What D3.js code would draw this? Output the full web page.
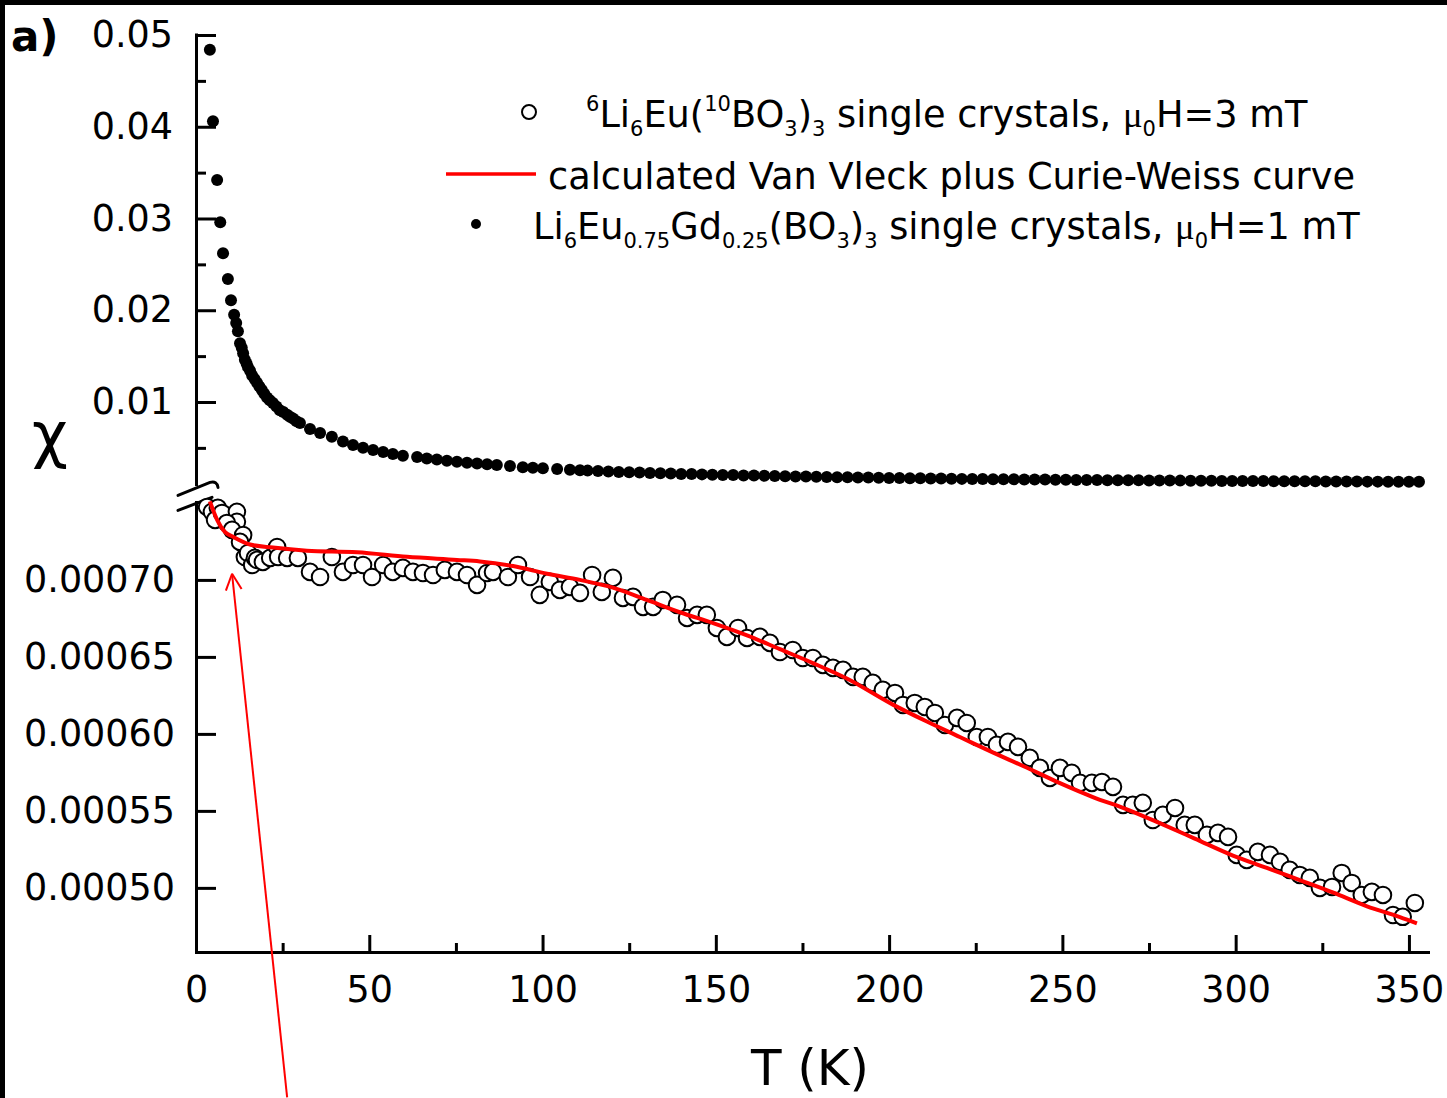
<!DOCTYPE html>
<html><head><meta charset="utf-8">
<script src="https://cdn.jsdelivr.net/npm/d3@7"></script>
<style>
html,body{margin:0;padding:0;background:#fff;}
svg{display:block;}
text{font-family:"DejaVu Sans",Verdana,sans-serif;fill:#000;}
</style></head><body>
<svg id="c" width="1447" height="1098"></svg>
<script>
// ---------------- DATA ----------------
// Li6Eu0.75Gd0.25(BO3)3, mu0H = 1 mT (filled dots, upper panel)
const T_up = [4.0,4.9,6.1,7.0,7.8,9.2,10.1,11.0,11.6,12.1,12.7,13.2,13.6,14.1,14.6,15.0,15.6,16.2,16.9,17.6,18.3,19.0,19.7,20.5,21.3,22.2,23.2,24.2,25.2,26.3,27.1,28.0,29.0,30.0,32.9,35.8,39.2,42.4,45.3,48.2,51.1,54.0,56.8,59.7,63.8,66.6,69.5,72.4,75.3,78.2,81.1,84.0,86.8,90.6,94.3,97.2,100.1,104.2,107.9,110.8,113.0,
116,119,122,125,128,131,134,137,140,143,146,149,152,155,158,161,164,167,170,173,176,179,182,185,188,191,194,197,200,203,206,209,212,215,218,221,224,227,230,233,236,239,242,245,248,251,254,257,260,263,266,269,272,275,278,281,284,287,290,293,296,299,302,305,308,311,314,317,320,323,326,329,332,335,338,341,344,347,350,352.9];
const chi_up = [0.0484,0.0406,0.0342,0.0296,0.0262,0.0234,0.0211,0.0195,0.0186,0.0177,0.0164,0.0159,0.0153,0.0146,0.0142,0.0138,0.0134,0.0129,0.0125,0.0121,0.0117,0.0113,0.0109,0.0105,0.0102,0.0099,0.0095,0.0091,0.0089,0.0086,0.0084,0.0082,0.0079,0.0077,0.00706,0.00662,0.0062,0.0057,0.0053,0.0050,0.00477,0.00455,0.00433,0.00415,0.0040,0.00385,0.00372,0.0036,0.00348,0.00337,0.0033,0.00322,0.00313,0.00302,0.0029,0.00283,0.00277,0.0027,0.00262,0.00257,0.00252,
0.00248,0.00243,0.00238,0.00235,0.00231,0.00227,0.00224,0.0022,0.00216,0.00214,0.00211,0.00208,0.00205,0.00203,0.002,0.00198,0.00195,0.00193,0.00191,0.00189,0.00187,0.00185,0.00183,0.00181,0.00179,0.00177,0.00176,0.00174,0.00172,0.00171,0.00169,0.00168,0.00166,0.00165,0.00164,0.00162,0.00161,0.0016,0.00159,0.00158,0.00157,0.00156,0.00155,0.00154,0.00153,0.00152,0.00151,0.0015,0.00149,0.00148,0.00147,0.00147,0.00146,0.00145,0.00144,0.00144,0.00143,0.00142,0.00142,0.00141,0.0014,0.0014,0.00139,0.00138,0.00138,0.00137,0.00137,0.00136,0.00135,0.00135,0.00134,0.00134,0.00133,0.00133,0.00132,0.00132,0.00131,0.00131,0.0013,0.0013];

// 6Li6Eu(10BO3)3, mu0H = 3 mT (open circles, lower panel)
const T_lo = [3.2,4.6,6.3,5.5,7.5,11.8,11.8,8.9,10.4,13.6,12.7,14.1,15.0,16.2,17.0,17.6,19.3,21.4,23.4,23.7,26.3,29.4,32.9,35.8,39.2,42.4,45.3,48.2,50.8,54.0,56.8,59.7,62.6,65.5,68.4,71.8,75.3,78.2,81.1,84.0,
85.7,90.0,92.9,96.4,99.2,102.1,105.0,107.9,110.8,114.3,117.1,120.3,123.2,126.1,129.0,131.9,134.7,138.8,141.7,144.6,147.4,150.3,153.2,156.4,159.0,162.7,165.6,168.5,172.2,175.1,178.0,180.9,183.8,186.7,189.6,192.4,195.3,
198.2,201.7,204.0,207.4,210.3,213.2,216.1,219.6,222.4,225.3,228.5,231.1,234.3,237.2,240.6,243.5,246.4,249.3,252.7,255.1,258.5,261.4,264.6,267.5,270.3,273.2,276.1,279.0,282.5,285.3,288.2,291.7,294.9,297.8,
300.3,303.2,306.4,309.9,312.8,315.6,318.5,321.4,324.3,327.8,330.6,333.5,336.4,339.3,342.5,345.4,348.2,351.7];
const chi_lo = [747.4,744.2,746.8,739.0,743.5,744.2,737.7,737.0,732.5,729.2,724.7,714.9,717.5,709.7,714.3,713.0,711.7,714.3,721.4,714.9,714.3,714.3,705.2,701.9,714.9,705.2,709.7,709.7,701.9,709.7,705.2,707.8,705.2,704.5,703.2,706.5,705.2,703.2,696.8,704.5,
705.2,701.9,709.7,701.9,690.3,698.7,693.5,695.5,691.6,703.2,692.2,701.3,688.3,689.0,682.5,682.5,687.0,683.8,675.3,677.3,677.3,668.8,663.0,668.8,662.3,663.0,659.1,653.2,654.5,649.3,649.3,644.8,642.9,641.6,637.0,637.0,633.1,
628.6,626.6,618.8,620.1,617.5,613.6,605.8,610.4,607.1,598.0,598.0,592.9,594.8,591.6,584.4,577.9,571.4,577.9,574.7,568.2,568.2,568.8,565.6,553.9,553.9,555.2,544.1,547.4,551.9,540.9,540.9,534.4,535.7,533.1,
521.4,518.2,523.4,521.4,516.9,511.7,508.4,506.5,500.0,500.6,509.7,503.2,495.4,497.4,495.4,482.4,481.2,490.2].map(v => v * 1e-6);

// calculated Van Vleck plus Curie-Weiss curve (red line)
const T_fit = [4.0,6.1,8.4,10.7,15.6,22.2,32.0,46.5,60.9,75.3,81.9,91.5,101.3,110.8,120.3,130.1,139.6,149.2,159.0,168.5,178.0,187.8,201.1,210.9,220.4,229.9,239.8,249.3,258.8,268.6,278.1,288.2,299.2,309.0,318.5,328.0,337.9,347.4,352.3];
const chi_fit = [0.000751,0.000739,0.000731,0.000728,0.000723,0.000721,0.000719,0.000718,0.000715,0.000713,0.000712,0.000709,0.000704,0.0007,0.000695,0.000687,0.000679,0.000672,0.000664,0.000655,0.000646,0.000636,0.000619,0.000608,0.000598,0.000588,0.000578,0.000568,0.000559,0.000551,0.000542,0.000532,0.000521,0.000513,0.000505,0.000497,0.000488,0.000481,0.000477];

// tick values / labels
const xMajor = [0,50,100,150,200,250,300,350];
const xMinor = [25,75,125,175,225,275,325];
const yUpMajor = [0.01,0.02,0.03,0.04,0.05];
const yUpMinor = [0.005,0.015,0.025,0.035,0.045];
const yLoMajor = [0.0005,0.00055,0.0006,0.00065,0.0007];

// annotation arrow (data units, lower panel): tip then tail
const arrowT = [10.4, 26.3];
const arrowChi = [0.000704, 0.000364];

// legend entries
const legendRows = [
  [["6","sup"],["Li",""],["6","sub"],["Eu(",""],["10","sup"],["BO",""],["3","sub"],[")",""],["3","sub"],[" single crystals, ",""],["\u03bc","mu"],["0","sub"],["H=3 mT",""]],
  [["calculated Van Vleck plus Curie-Weiss curve",""]],
  [["Li",""],["6","sub"],["Eu",""],["0.75","sub"],["Gd",""],["0.25","sub"],["(BO",""],["3","sub"],[")",""],["3","sub"],[" single crystals, ",""],["\u03bc","mu"],["0","sub"],["H=1 mT",""]]
];

// ---------------- DRAW ----------------
const svg = d3.select("#c");
svg.append("rect").attr("width",1447).attr("height",1098).attr("fill","#fff");
// black frame strips (top, left)
svg.append("rect").attr("x",0).attr("y",0).attr("width",1447).attr("height",5).attr("fill","#000");
svg.append("rect").attr("x",0).attr("y",0).attr("width",5).attr("height",1098).attr("fill","#000");

const x = d3.scaleLinear().domain([0,355.5]).range([196,1428]);
const yUp = d3.scaleLinear().domain([0.0008,0.05]).range([486.4,35]);
const yLo = d3.scaleLinear().domain([0.000459,0.0007506]).range([951,502]);

const fs = 36.5;

function styleAxis(g){
  g.selectAll("path.domain").attr("stroke","#000").attr("stroke-width",3).attr("stroke-linecap","square");
  g.selectAll(".tick line").attr("stroke","#000").attr("stroke-width",3);
  g.selectAll(".tick text").attr("font-family","DejaVu Sans, Verdana, sans-serif").attr("font-size",fs).attr("fill","#000");
}

// X axis
const gx = svg.append("g").attr("transform","translate(0,952)");
gx.call(d3.axisBottom(x).tickValues(xMajor).tickSizeInner(-17).tickSizeOuter(0).tickPadding(24).tickFormat(d3.format("d")));
styleAxis(gx);
const gxm = svg.append("g").attr("transform","translate(0,952)");
gxm.call(d3.axisBottom(x).tickValues(xMinor).tickSizeInner(-9).tickSizeOuter(0).tickFormat(""));
gxm.select("path.domain").remove();
styleAxis(gxm);

// Upper Y axis
const gyu = svg.append("g").attr("transform","translate(196,0)");
gyu.call(d3.axisLeft(yUp).tickValues(yUpMajor).tickSizeInner(-20).tickSizeOuter(0).tickPadding(23).tickFormat(d3.format(".2f")));
gyu.select("path.domain").attr("d", `M0.5,${yUp.range()[0]-2}V${yUp.range()[1]}`);
styleAxis(gyu);
const gyum = svg.append("g").attr("transform","translate(196,0)");
gyum.call(d3.axisLeft(yUp).tickValues(yUpMinor).tickSizeInner(-10).tickSizeOuter(0).tickFormat(""));
gyum.select("path.domain").remove();
styleAxis(gyum);

// Lower Y axis
const gyl = svg.append("g").attr("transform","translate(196,0)");
gyl.call(d3.axisLeft(yLo).tickValues(yLoMajor).tickSizeInner(-20).tickSizeOuter(0).tickPadding(21).tickFormat(d3.format(".5f")));
styleAxis(gyl);

// axis break marks
const bx = 196, by = yUp.range()[0];
svg.append("path").attr("d",`M${bx-18},${by+9} L${bx+14},${by-4} Q${bx+21},${by-6} ${bx+22},${by+1}`)
  .attr("fill","none").attr("stroke","#000").attr("stroke-width",3).attr("stroke-linecap","round");
svg.append("path").attr("d",`M${bx-18},${by+24} L${bx+16},${by+11}`)
  .attr("fill","none").attr("stroke","#000").attr("stroke-width",3).attr("stroke-linecap","round");

// lower data: open circles
const lo = T_lo.map((t,i)=>({t, v:chi_lo[i]}));
svg.append("g").selectAll("circle").data(lo).join("circle")
  .attr("cx",d=>x(d.t)).attr("cy",d=>yLo(d.v)).attr("r",8.3)
  .attr("fill","#fff").attr("stroke","#000").attr("stroke-width",2);

// fit line
const fit = T_fit.map((t,i)=>({t, v:chi_fit[i]}));
svg.append("path").datum(fit)
  .attr("d", d3.line().x(d=>x(d.t)).y(d=>yLo(d.v)).curve(d3.curveMonotoneX))
  .attr("fill","none").attr("stroke","#ff0000").attr("stroke-width",4).attr("stroke-linejoin","round");

// upper data: filled dots
const up = T_up.map((t,i)=>({t, v:chi_up[i]}));
svg.append("g").selectAll("circle").data(up).join("circle")
  .attr("cx",d=>x(d.t)).attr("cy",d=>yUp(d.v)).attr("r",6).attr("fill","#000");

// annotation arrow
const ax0 = x(arrowT[0]), ay0 = yLo(arrowChi[0]), ax1 = x(arrowT[1]), ay1 = yLo(arrowChi[1]);
svg.append("line").attr("x1",ax0).attr("y1",ay0).attr("x2",ax1).attr("y2",ay1)
  .attr("stroke","#ff0000").attr("stroke-width",2);
{
  const dx = ax1-ax0, dy = ay1-ay0, L = Math.hypot(dx,dy), ux = dx/L, uy = dy/L;
  const a = 26*Math.PI/180, len = 18;
  [a,-a].forEach(r=>{
    const rx = ux*Math.cos(r)-uy*Math.sin(r), ry = ux*Math.sin(r)+uy*Math.cos(r);
    svg.append("line").attr("x1",ax0).attr("y1",ay0).attr("x2",ax0+rx*len).attr("y2",ay0+ry*len)
      .attr("stroke","#ff0000").attr("stroke-width",2);
  });
}

// labels
svg.append("text").attr("x",11).attr("y",51).attr("font-size",42).attr("font-weight","bold").text("a)");
svg.append("text").attr("x",50).attr("y",456).attr("text-anchor","middle").attr("font-family","Liberation Serif, DejaVu Serif, serif").attr("font-size",62).text("\u03c7");
svg.append("text").attr("x",810).attr("y",1085).attr("text-anchor","middle").attr("font-size",50).text("T (K)");

// legend
const lfs = 36.7;
const legX = [586, 548, 533];
const legY = [127, 189, 239];
function rich(row, i){
  const t = svg.append("text").attr("x",legX[i]).attr("y",legY[i]).attr("font-size",lfs);
  let shift = 0;
  row.forEach(([s,type])=>{
    let target = 0, size = lfs, fam = null;
    if(type==="sub"){ target = 9; size = 21; }
    else if(type==="sup"){ target = -16; size = 21; }
    else if(type==="mu"){ fam = "Liberation Serif, DejaVu Serif, serif"; }
    const ts = t.append("tspan").attr("dy", target-shift).attr("font-size",size).text(s);
    if(fam) ts.attr("font-family",fam);
    shift = target;
  });
}
legendRows.forEach(rich);
// legend markers
svg.append("circle").attr("cx",529).attr("cy",112).attr("r",7).attr("fill","#fff").attr("stroke","#000").attr("stroke-width",2);
svg.append("line").attr("x1",446).attr("x2",536).attr("y1",174).attr("y2",174).attr("stroke","#ff0000").attr("stroke-width",3.5);
svg.append("circle").attr("cx",476).attr("cy",224).attr("r",5).attr("fill","#000");
</script>
</body></html>
